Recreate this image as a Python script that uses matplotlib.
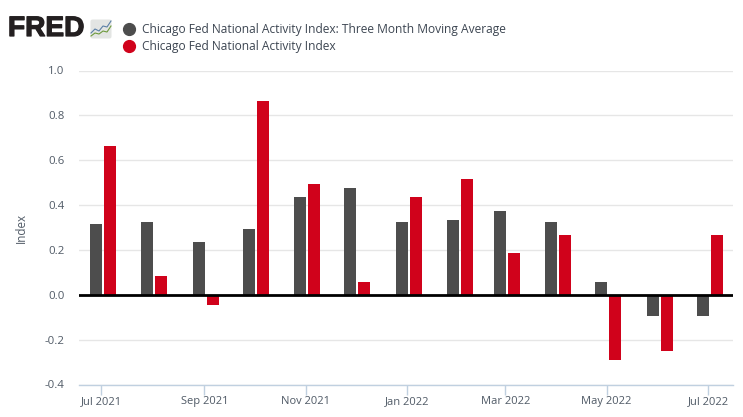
import matplotlib
matplotlib.use("Agg")
import matplotlib.pyplot as plt
import matplotlib.dates as mdates
import matplotlib.patheffects as pe
from matplotlib.lines import Line2D
from matplotlib.patches import FancyBboxPatch
from datetime import datetime, timedelta

plt.rcParams['font.family'] = ['Open Sans', 'DejaVu Sans']

months = ["2021-07", "2021-08", "2021-09", "2021-10", "2021-11", "2021-12", "2022-01",
          "2022-02", "2022-03", "2022-04", "2022-05", "2022-06", "2022-07"]
moving_average = [0.315, 0.325, 0.235, 0.295, 0.435, 0.475, 0.325, 0.335, 0.375, 0.325, 0.055, -0.095, -0.095]
activity_index = [0.665, 0.085, -0.045, 0.865, 0.495, 0.055, 0.435, 0.515, 0.185, 0.265, -0.29, -0.25, 0.265]
series_names = ["Chicago Fed National Activity Index: Three Month Moving Average",
                "Chicago Fed National Activity Index"]
y_ticks = [-0.4, -0.2, 0.0, 0.2, 0.4, 0.6, 0.8, 1.0]
x_ticks = ["2021-07", "2021-09", "2021-11", "2022-01", "2022-03", "2022-05", "2022-07"]

GREY, RED = "#4d4d4d", "#d0021b"
TXT = "#505a66"
W, H = 743, 417
fig = plt.figure(figsize=(W / 100, H / 100), dpi=100)
ax = fig.add_axes([79 / W, 1 - 384.5 / H, (733 - 79) / W, (384.5 - 70.5) / H])

dates = [datetime.strptime(m, "%Y-%m") for m in months]
bw = timedelta(days=7.2)
ax.bar([d - timedelta(days=3.3) for d in dates], moving_average, width=bw, color=GREY, zorder=3)
ax.bar([d + timedelta(days=5.1) for d in dates], activity_index, width=bw, color=RED, zorder=3)

ax.set_ylim(-0.4, 1.0)
ax.set_xlim(dates[0] - timedelta(days=13.5), dates[0] + timedelta(days=380))
ax.set_yticks(y_ticks)
ax.set_yticklabels([f"{v:.1f}" for v in y_ticks])
ax.set_xticks([datetime.strptime(m, "%Y-%m") for m in x_ticks])
ax.xaxis.set_major_formatter(mdates.DateFormatter("%b %Y"))
ax.yaxis.grid(True, color="#e6e6e6", lw=1, zorder=0)
ax.set_axisbelow(True)
ax.axhline(0, color="black", lw=2, zorder=4)
for s in ("top", "left", "right"):
    ax.spines[s].set_visible(False)
ax.spines["bottom"].set_color("#c0d0e0")
ax.spines["bottom"].set_linewidth(1)
ax.tick_params(axis="x", length=7, width=1, color="#c0d0e0", labelsize=8, labelcolor=TXT, pad=1.5)
ax.tick_params(axis="y", length=0, labelsize=8.2, labelcolor=TXT, pad=10.5)
fig.text(21 / W, 1 - 228 / H, "Index", rotation=90, ha="center", va="center", fontsize=8.4, color=TXT)

# legend
handles = [Line2D([], [], ls="", marker="o", ms=8.5, mfc=c, mec=c) for c in (GREY, RED)]
fig.legend(handles, series_names, loc="upper left", bbox_to_anchor=(119.5 / W, 1 - 23 / H),
           frameon=False, fontsize=8.65, labelcolor="#3d4652", handletextpad=0.3,
           labelspacing=0.33, borderpad=0, borderaxespad=0, handlelength=1.6)

# logo
fig.text(8 / W, 1 - 29 / H, "FRED", fontsize=20.2, fontweight="bold", color="#231f20",
         family="Liberation Sans", ha="left", va="center",
         path_effects=[pe.withStroke(linewidth=0.9, foreground="#231f20")])
icon = fig.add_axes([90 / W, 1 - 39 / H, 22 / W, 20 / H])
icon.set_xlim(0, 22)
icon.set_ylim(0, 20)
icon.axis("off")
icon.add_patch(FancyBboxPatch((0.5, 0.5), 21, 19, boxstyle="round,pad=0,rounding_size=2", fc="#e3e5e3", ec="none"))
icon.plot([1, 5, 9, 13, 17, 21], [6, 10, 8, 13, 12, 18], color="#5b7fa6", lw=0.8)
icon.plot([1, 5, 9, 13, 17, 21], [3, 6, 5, 8, 7, 13], color="#6e9a3c", lw=0.8)

fig.savefig("out.png", dpi=100)
